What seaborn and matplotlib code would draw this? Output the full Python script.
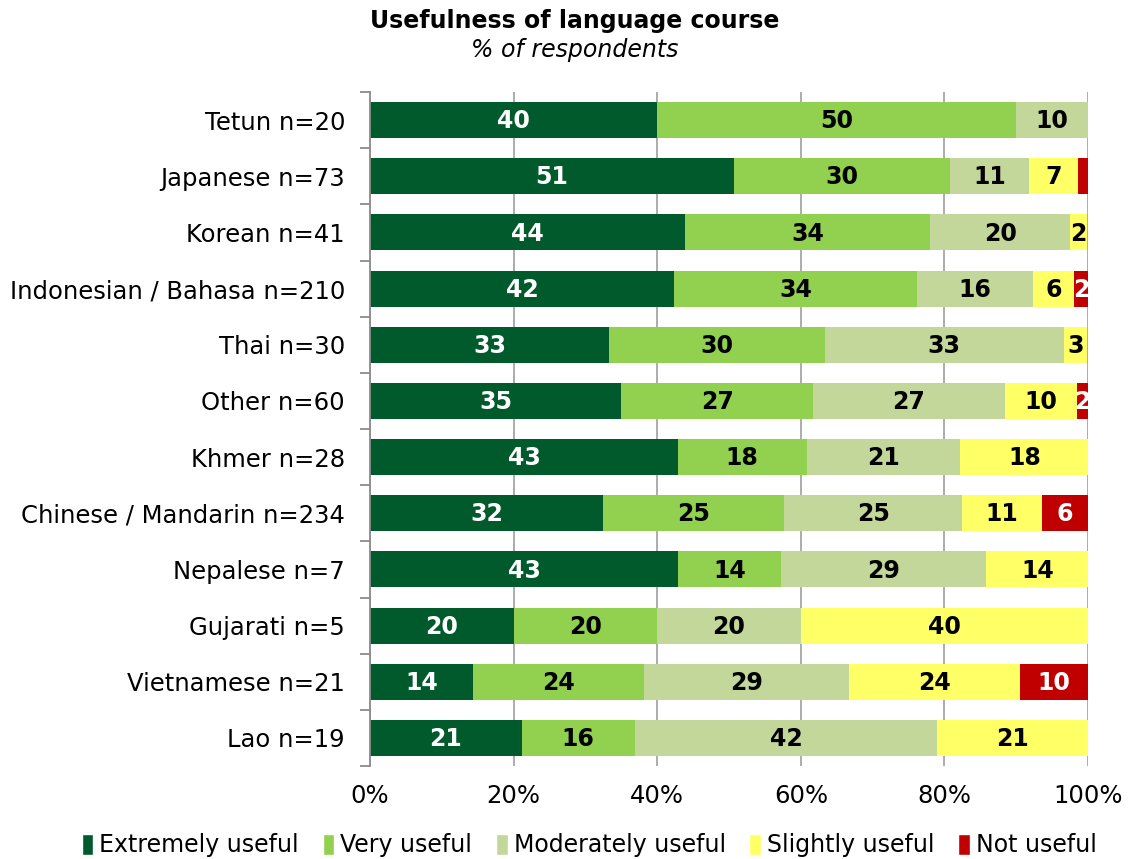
import numpy as np
import pandas as pd
import seaborn as sns
import matplotlib.pyplot as plt
from matplotlib.patches import Patch

languages = ["Tetun n=20", "Japanese n=73", "Korean n=41", "Indonesian / Bahasa n=210",
             "Thai n=30", "Other n=60", "Khmer n=28", "Chinese / Mandarin n=234",
             "Nepalese n=7", "Gujarati n=5", "Vietnamese n=21", "Lao n=19"]
extremely = [40.0, 50.7, 43.9, 42.4, 33.3, 35.0, 42.9, 32.5, 42.9, 20.0, 14.3, 21.1]
very = [50.0, 30.1, 34.1, 33.8, 30.0, 26.7, 17.9, 25.2, 14.3, 20.0, 23.8, 15.8]
moderately = [10.0, 11.0, 19.5, 16.2, 33.3, 26.7, 21.4, 24.8, 28.6, 20.0, 28.6, 42.1]
slightly = [0.0, 6.8, 2.4, 5.7, 3.3, 10.0, 17.9, 11.1, 14.3, 40.0, 23.8, 21.1]
not_useful = [0.0, 1.4, 0.0, 1.9, 0.0, 1.7, 0.0, 6.4, 0.0, 0.0, 9.5, 0.0]

series = ["Extremely useful", "Very useful", "Moderately useful", "Slightly useful", "Not useful"]
colors = ["#005A2C", "#92D050", "#C4D79B", "#FFFF66", "#C00000"]
text_colors = ["white", "black", "black", "black", "white"]

df = pd.DataFrame({"language": languages, series[0]: extremely, series[1]: very,
                   series[2]: moderately, series[3]: slightly, series[4]: not_useful})
vals = df[series].to_numpy()
cum = vals.cumsum(axis=1)

sns.set_style("white")
plt.rcParams["font.family"] = ["DejaVu Sans"]
plt.rcParams["text.color"] = "black"
plt.rcParams["xtick.color"] = "black"
plt.rcParams["ytick.color"] = "black"

fig = plt.figure(figsize=(11.33, 8.59), dpi=100)
ax = fig.add_axes([0.3266, 0.1082, 0.6337, 0.7847])
ax.xaxis.grid(True, color="#A6A6A6", linewidth=1.3, zorder=0)
ax.set_axisbelow(True)

# draw longest cumulative bar first so shorter ones sit on top
for k in range(len(series) - 1, -1, -1):
    sns.barplot(x=cum[:, k] / 100, y=df["language"], color=colors[k], orient="h",
                width=0.64, saturation=1, linewidth=0, ax=ax, zorder=2)

# segment labels
for i in range(len(languages)):
    for k in range(len(series)):
        v = vals[i, k]
        if v < 1.5:
            continue
        centre = (cum[i, k] - v / 2) / 100
        ax.text(centre, i + 0.02, f"{v:.0f}", ha="center", va="center", fontsize=17,
                fontweight="bold", color=text_colors[k], zorder=3)

ax.set_xlim(0, 1)
ax.set_ylim(len(languages) - 0.5, -0.5)
ax.set_xticks(np.arange(0, 1.01, 0.2))
ax.set_xticklabels([f"{int(t)}%" for t in np.arange(0, 101, 20)], fontsize=17.5)
ax.set_xlabel("")
ax.set_ylabel("")
ax.tick_params(axis="y", length=0, labelsize=17.5, pad=18)
ax.tick_params(axis="x", length=0, pad=13)
ax.set_yticks(np.arange(-0.5, len(languages), 1), minor=True)
ax.tick_params(axis="y", which="minor", length=7, color="#8C8C8C", width=1.3, left=True)
for s in ["top", "right", "bottom"]:
    ax.spines[s].set_visible(False)
ax.spines["left"].set_color("#8C8C8C")
ax.spines["left"].set_linewidth(1.3)

fig.text(0.507, 0.975, "Usefulness of language course", ha="center", va="center",
         fontsize=17, fontweight="bold")
fig.text(0.507, 0.942, "% of respondents", ha="center", va="center",
         fontsize=17, style="italic")

handles = [Patch(facecolor=c, label=s) for c, s in zip(colors, series)]
fig.legend(handles=handles, loc="center", bbox_to_anchor=(0.52, 0.016), ncol=5,
           frameon=False, handlelength=0.5, handleheight=1.0,
           handletextpad=0.25, columnspacing=1.0,
           prop={"family": ["Liberation Sans Narrow", "DejaVu Sans"], "size": 17})

fig.savefig("out.png", dpi=100)
